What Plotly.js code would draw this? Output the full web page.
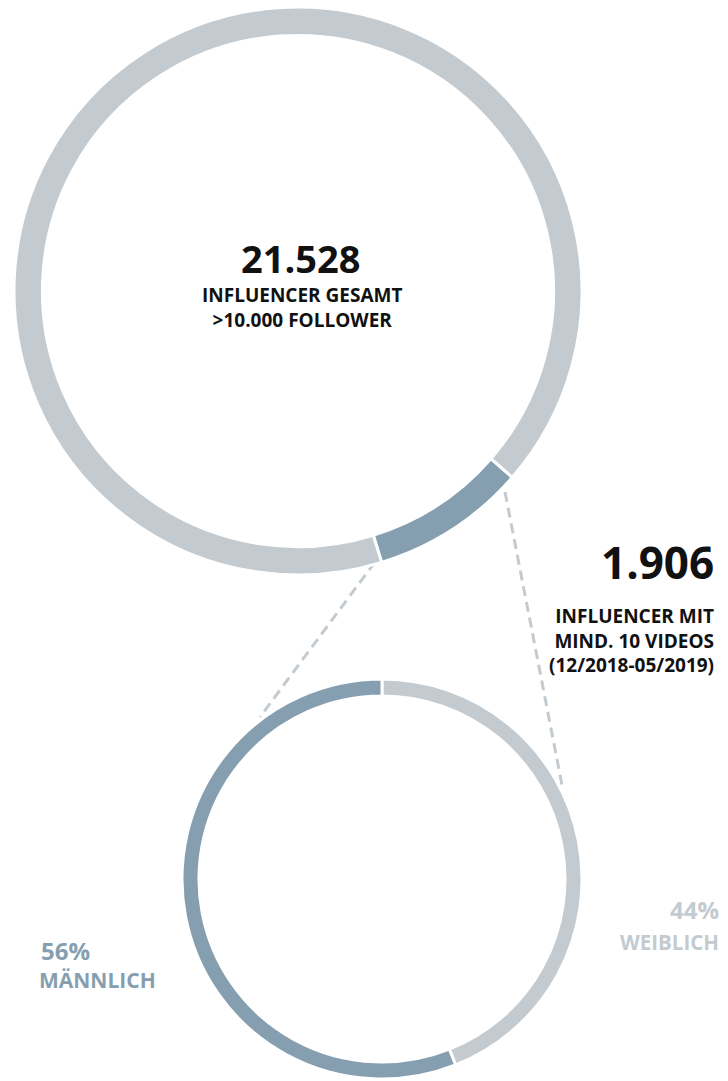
<!DOCTYPE html>
<html>
<head>
<meta charset="utf-8">
<script src="https://cdn.plot.ly/plotly-3.0.1.min.js"></script>
<style>html,body{margin:0;padding:0;background:#fff;}#chart{width:728px;height:1081px;}</style>
</head>
<body>
<div id="chart"></div>
<script>
// ---- data ----
const totalLabels = ["Mind. 10 Videos", "Übrige Influencer"];
const totalInfluencer = 21528;
const activeInfluencer = 1906;
const totalValues = [activeInfluencer, totalInfluencer - activeInfluencer];
const genderLabels = ["Weiblich", "Männlich"];
const genderValues = [44, 56];

const W = 728, H = 1081;
const px = x => x / W;
const py = y => 1 - y / H;

const DARK = "#869fb0";
const LIGHT = "#c3cbd0";
const FONT = "Open Sans, DejaVu Sans, sans-serif";

const fmt = n => n.toLocaleString("de-DE");

const data = [
  {
    type: "pie",
    labels: totalLabels,
    values: totalValues,
    hole: 0.9,
    sort: false,
    direction: "clockwise",
    rotation: 131,
    textinfo: "none",
    hoverinfo: "label+value",
    marker: {colors: [DARK, LIGHT], line: {color: "#ffffff", width: 3}},
    domain: {x: [px(14), px(582)], y: [py(575), py(7)]},
    showlegend: false
  },
  {
    type: "pie",
    labels: genderLabels,
    values: genderValues,
    hole: 0.915,
    sort: false,
    direction: "clockwise",
    rotation: 0,
    textinfo: "none",
    hoverinfo: "label+percent",
    marker: {colors: [LIGHT, DARK], line: {color: "#ffffff", width: 3}},
    domain: {x: [px(182), px(582)], y: [py(1079), py(679)]},
    showlegend: false
  }
];

function ann(text, x, y, size, color, xanchor) {
  return {
    text: text, x: px(x), y: py(y), xref: "paper", yref: "paper",
    xanchor: xanchor, yanchor: "middle", align: xanchor, showarrow: false,
    borderpad: 0,
    font: {family: FONT, size: size, color: color, weight: 700}
  };
}

const TXT = "#111111";
const annotations = [
  ann(fmt(totalInfluencer), 300, 258, 38, TXT, "center"),
  ann("INFLUENCER GESAMT<br>&gt;10.000 FOLLOWER", 302, 308, 19, TXT, "center"),
  ann(fmt(activeInfluencer), 715, 562, 44, TXT, "right"),
  ann("INFLUENCER MIT<br>MIND. 10 VIDEOS<br>(12/2018-05/2019)", 715, 640, 19, TXT, "right"),
  ann(genderValues[1] + "%", 40, 950, 24, DARK, "left"),
  ann(genderLabels[1].toUpperCase(), 38, 980, 21, DARK, "left"),
  ann(genderValues[0] + "%", 720, 909, 24, LIGHT, "right"),
  ann(genderLabels[0].toUpperCase(), 720, 942, 20.5, LIGHT, "right")
];

const shapes = [
  {type: "line", xref: "paper", yref: "paper", x0: px(375), y0: py(562), x1: px(260), y1: py(717),
   line: {color: LIGHT, width: 3, dash: "10px,6px"}, layer: "below"},
  {type: "line", xref: "paper", yref: "paper", x0: px(505), y0: py(492), x1: px(562), y1: py(785),
   line: {color: LIGHT, width: 3, dash: "10px,6px"}, layer: "below"}
];

const layout = {
  width: W, height: H,
  margin: {l: 0, r: 0, t: 0, b: 0},
  paper_bgcolor: "#ffffff",
  plot_bgcolor: "#ffffff",
  showlegend: false,
  annotations: annotations,
  shapes: shapes
};

Plotly.newPlot("chart", data, layout, {displayModeBar: false, staticPlot: true});
</script>
</body>
</html>
